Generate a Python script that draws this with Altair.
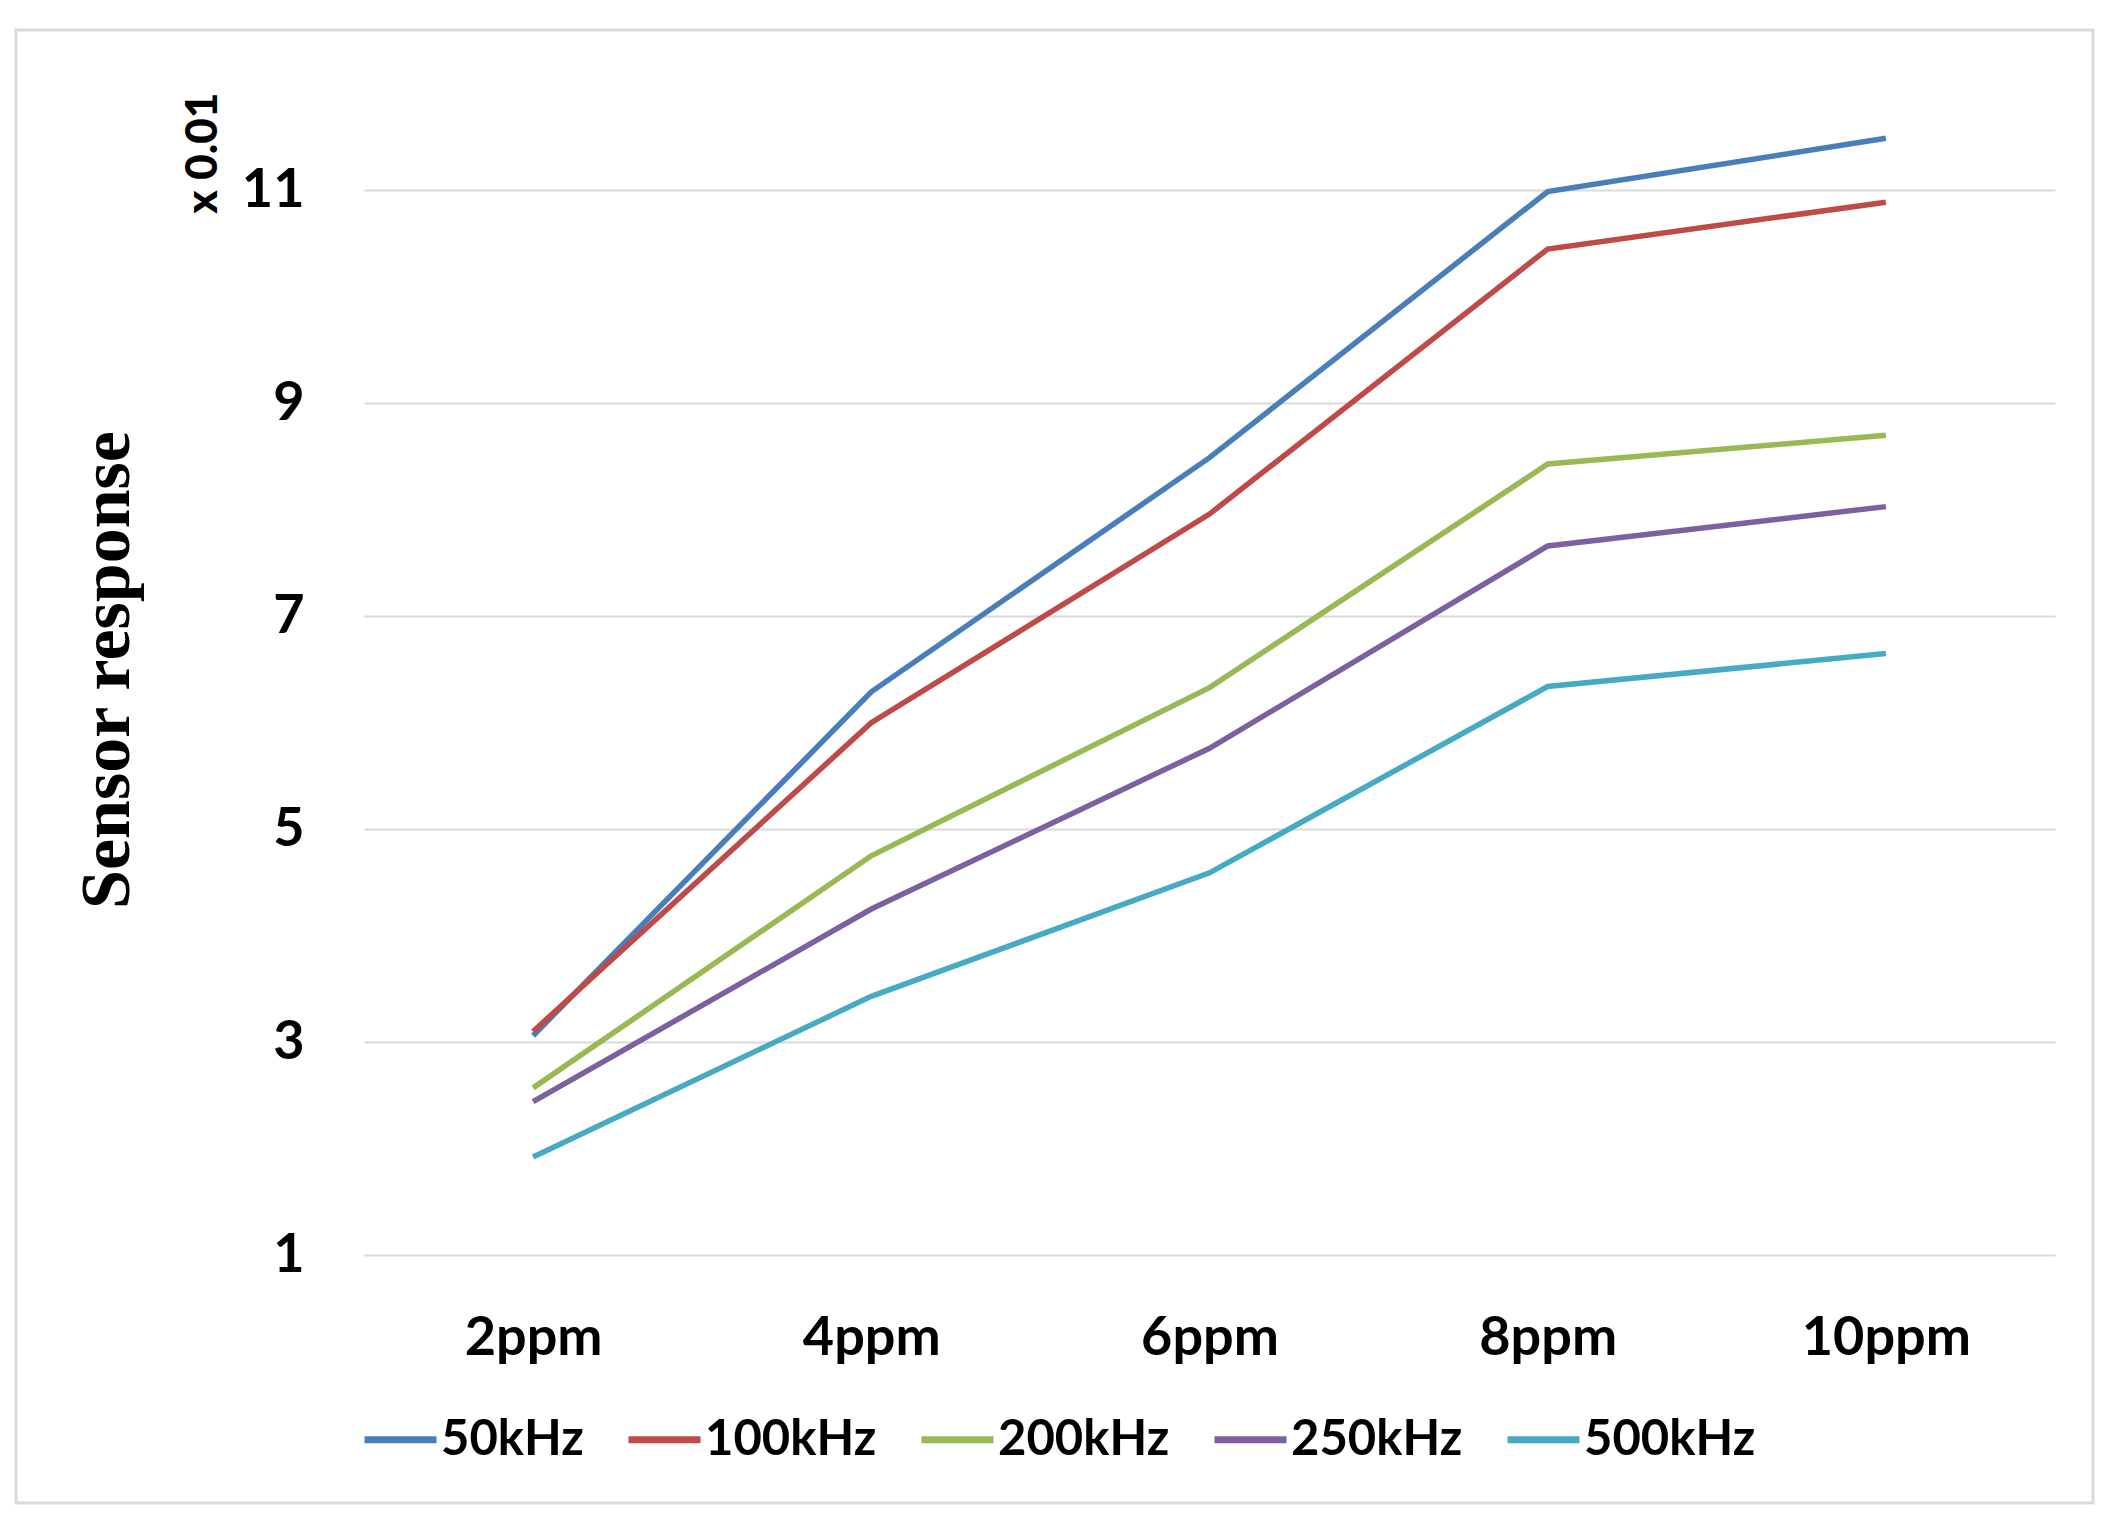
import altair as alt
import pandas as pd

categories = ["2ppm", "4ppm", "6ppm", "8ppm", "10ppm"]
series_names = ["50kHz", "100kHz", "200kHz", "250kHz", "500kHz"]
s50 = [3.06, 6.29, 8.49, 10.99, 11.49]
s100 = [3.10, 6.00, 7.96, 10.45, 10.89]
s200 = [2.57, 4.75, 6.33, 8.43, 8.70]
s250 = [2.44, 4.25, 5.76, 7.66, 8.03]
s500 = [1.92, 3.43, 4.59, 6.34, 6.65]
y_ticks = [1, 3, 5, 7, 9, 11]
colors = ["#4A7EBB", "#BE4B48", "#98B954", "#7D60A0", "#46AAC5"]

rows = []
for name, vals in zip(series_names, [s50, s100, s200, s250, s500]):
    for c, v in zip(categories, vals):
        rows.append({"conc": c, "freq": name, "resp": v})
df = pd.DataFrame(rows)

W, H = 1691, 1171
FONT = "Lato"

lines = alt.Chart(df).mark_line(strokeWidth=5.5).encode(
    x=alt.X("conc:N", sort=categories, title=None,
            scale=alt.Scale(type="point", padding=0.5),
            axis=alt.Axis(labelAngle=0, labelFont=FONT, labelFontSize=54,
                          labelFontWeight="bold", labelColor="#000000",
                          labelPadding=56, ticks=False, domain=False, grid=False)),
    y=alt.Y("resp:Q", title="Sensor response",
            scale=alt.Scale(domain=[1, 12], nice=False, zero=False),
            axis=alt.Axis(values=y_ticks, format="d", labelFont=FONT, labelFontSize=54,
                          labelFontWeight="bold", labelColor="#000000",
                          labelPadding=60, ticks=False, domain=False,
                          gridColor="#d9d9d9", gridWidth=2,
                          titleFont="Liberation Serif", titleFontSize=70,
                          titleFontWeight="bold", titleColor="#000000",
                          titleAngle=270, titleX=-236, titleY=H / 2,
                          titleAlign="center", titleBaseline="alphabetic")),
    color=alt.Color("freq:N", sort=series_names,
                    scale=alt.Scale(domain=series_names, range=colors),
                    legend=alt.Legend(title=None, orient="none", direction="horizontal",
                                      legendX=-3, legendY=1316,
                                      symbolType="stroke", symbolSize=5184,
                                      symbolStrokeWidth=7, labelFont=FONT,
                                      labelFontSize=49, labelFontWeight="bold",
                                      labelColor="#000000", labelOffset=1,
                                      labelLimit=400,
                                      columnPadding=30, padding=0)),
)

dummy = pd.DataFrame({"t": ["x 0.01"]})

frame = alt.Chart(dummy).mark_rect(filled=False, stroke="#d9d9d9", strokeWidth=3).encode(
    x=alt.value(-348), x2=alt.value(1729), y=alt.value(-54), y2=alt.value(1419)
)

units = alt.Chart(dummy).mark_text(
    angle=270, font=FONT, fontSize=44, fontWeight=900,
    color="#000000", align="center", baseline="middle"
).encode(text="t:N", x=alt.value(-160), y=alt.datum(11.35))

chart = alt.layer(frame, lines, units).properties(
    width=W, height=H,
    autosize=alt.AutoSizeParams(type="none"),
    padding={"left": 356, "top": 76, "right": 40, "bottom": 254},
).configure(background="#ffffff", view=alt.ViewConfig(stroke=None))

chart.save("out.html", embed_options={"renderer": "svg", "actions": False})
